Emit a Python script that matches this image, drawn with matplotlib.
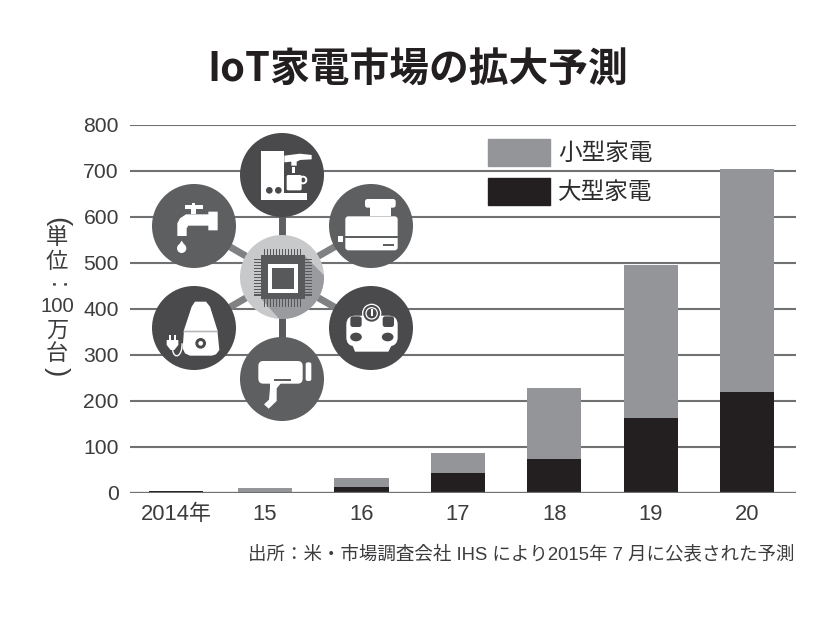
import numpy as np
import matplotlib
matplotlib.use('Agg')
import matplotlib.pyplot as plt
from matplotlib.patches import Circle, Polygon, Rectangle, FancyBboxPatch, Ellipse, PathPatch, Patch
from matplotlib.path import Path

categories = ['2014年', '15', '16', '17', '18', '19', '20']
large_appliances = [4, 2, 14, 43, 75, 162, 219]
small_appliances = [1, 8, 18, 45, 153, 333, 486]
y_ticks = [0, 100, 200, 300, 400, 500, 600, 700, 800]
series_names = ['小型家電', '大型家電']
title_text = 'IoT家電市場の拡大予測'
source_text = '出所：米・市場調査会社 IHS により2015年 7 月に公表された予測'

W, H = 833, 631
CJK = 'Noto Sans CJK JP'
SANS = ['Liberation Sans', CJK]
INK = '#3c3c3e'
GRID = '#707173'
GRAY = '#939598'
BLACK = '#231f20'

fig = plt.figure(figsize=(W / 100, H / 100), dpi=100, facecolor='white')
ax = fig.add_axes([130 / W, 1 - 493 / H, (796 - 130) / W, (493 - 125) / H])

x = np.arange(len(categories), dtype=float)
x[0] += 0.078  # first bar sits slightly right of the regular spacing
ax.bar(x, large_appliances, width=0.56, color=BLACK, zorder=3)
ax.bar(x, small_appliances, width=0.56, bottom=large_appliances, color=GRAY, zorder=3)

ax.set_xlim(-0.399, 6.503)
ax.set_ylim(0, 800)
ax.set_yticks(y_ticks)
ax.set_xticks(x)
ax.set_xticklabels(categories, family=SANS, fontsize=15.8, color=INK)
ax.tick_params(axis='both', length=0)
ax.tick_params(axis='x', pad=8)
ax.tick_params(axis='y', pad=8)
for lab in ax.get_yticklabels():
    lab.set_family(SANS)
    lab.set_fontsize(15.2)
    lab.set_color(INK)
ax.grid(axis='y', color=GRID, lw=1.5, zorder=1)
ax.set_axisbelow(True)
for s in ax.spines.values():
    s.set_visible(False)
ax.axhline(0, color=GRID, lw=1.6, zorder=4)

handles = [Patch(color=GRAY), Patch(color=BLACK)]
fig.legend(handles, series_names, loc='upper left', bbox_to_anchor=(488 / W, 1 - 139 / H),
           frameon=False, prop={'family': CJK, 'size': 17}, borderpad=0, borderaxespad=0,
           handlelength=2.63, handleheight=1.36, handletextpad=0.34, labelspacing=0.53,
           labelcolor='#2c2c2e')

fig.text(418 / W, 1 - 70 / H, title_text, ha='center', va='center', family=[CJK], fontsize=28.6,
         fontweight='bold', color='#231f20')
fig.text(795 / W, 1 - 554 / H, source_text, ha='right', va='center', family=SANS, fontsize=13.3, color=INK)

# stacked vertical unit label
unit = [('(', 222, 270, 20), ('単', 239, 0, 16), ('位', 263, 0, 16), (':', 285, 270, 18), ('100', 307, 0, 14.6),
        ('万', 331, 0, 16), ('台', 354, 0, 16), (')', 372, 270, 20)]
for t, py, rot, fs in unit:
    fig.text(57 / W, 1 - py / H, t, ha='center', va='center', family=SANS, fontsize=fs,
             rotation=rot, color=INK)

# ---- illustration overlay, drawn in pixel coordinates ----
ov = fig.add_axes([0, 0, 1, 1], zorder=5)
ov.set_xlim(0, W)
ov.set_ylim(H, 0)
ov.axis('off')
ov.patch.set_alpha(0)

DARK = '#4a4a4c'
MID = '#5e5f61'
WHITE = 'white'
ctr = (282, 277)
R = 42
spokes = [(282, 175, DARK, MID), (194, 226, MID, '#808183'), (194, 328, DARK, '#808183'),
          (282, 379, MID, '#58595b'), (371, 226, MID, '#808183'), (371, 328, DARK, '#808183')]
for cx, cy, c, sc in spokes:
    ov.plot([ctr[0], cx], [ctr[1], cy], color=sc, lw=5, zorder=1, solid_capstyle='butt')
    ov.add_patch(Circle((cx, cy), R, fc=c, ec='none', zorder=2))


def Z(zx, zy):
    return (130 + zx / 3, 125 + zy / 3)


def Y(zx, zy):
    return (240 + zx / 3, 125 + zy / 3)


def poly(pts, fc=WHITE, z=3):
    ov.add_patch(Polygon(pts, closed=True, fc=fc, ec='none', zorder=z))


def rrect(f, x0, y0, x1, y1, r, fc=WHITE, z=3):
    a, b = f(x0, y0), f(x1, y1)
    ov.add_patch(FancyBboxPatch((a[0] + r, a[1] + r), b[0] - a[0] - 2 * r, b[1] - a[1] - 2 * r,
                                boxstyle=f'round,pad={r},rounding_size={r}', fc=fc, ec='none', zorder=z))


def circ(f, zx, zy, r, fc=WHITE, z=3, ec='none', lw=0):
    ov.add_patch(Circle(f(zx, zy), r / 3, fc=fc, ec=ec, lw=lw, zorder=z))


# coffee machine
poly([Z(*p) for p in [(393, 78), (463, 78), (463, 205), (530, 205), (530, 225), (393, 225)]])
poly([Z(*p) for p in [(463, 92), (510, 86), (545, 90), (545, 103), (510, 105), (500, 110), (500, 122),
                      (484, 122), (484, 110), (463, 112)]])
ov.add_patch(Rectangle(Z(487, 126), 8 / 3, 18 / 3, fc=WHITE, ec='none', zorder=3))
rrect(Z, 470, 150, 515, 196, 1.5)
circ(Z, 519, 165, 10, fc='none', ec=WHITE, lw=1.4, z=3)
circ(Z, 418, 196, 10, fc=DARK, z=4)
circ(Z, 445, 196, 10, fc=DARK, z=4)

# tap
poly([Z(*p) for p in [(165, 241), (185, 241), (185, 233), (195, 233), (195, 241), (218, 241), (218, 251),
                      (197, 251), (197, 266), (183, 266), (183, 251), (165, 251)]])
poly([Z(*p) for p in [(142, 333), (142, 295), (150, 280), (168, 268), (235, 268), (235, 260), (263, 260),
                      (263, 316), (235, 316), (235, 302), (175, 302), (170, 310), (170, 333)]])
circ(Z, 155, 370, 14)
poly([Z(*p) for p in [(155, 347), (143, 365), (167, 365)]])

# humidifier
poly([Z(*p) for p in [(195, 530), (228, 530), (240, 545), (262, 615), (268, 675), (258, 688), (245, 692),
                      (180, 692), (165, 685), (158, 670), (162, 615), (185, 545)]])
poly([Z(*p) for p in [(161, 617), (263, 617), (264, 622), (160, 622)]], fc='#b8b9bb', z=4)
circ(Z, 212, 655, 16, fc=DARK, z=4)
circ(Z, 212, 655, 7, fc=WHITE, z=5)
poly([Z(*p) for p in [(110, 645), (145, 645), (145, 660), (133, 675), (122, 675), (110, 660)]])
poly([Z(*p) for p in [(116, 630), (122, 630), (122, 646), (116, 646)]])
poly([Z(*p) for p in [(133, 630), (139, 630), (139, 646), (133, 646)]])
cord = Path([Z(128, 675), Z(132, 705), Z(158, 695), Z(156, 655)], [Path.MOVETO, Path.CURVE4, Path.CURVE4, Path.CURVE4])
ov.add_patch(PathPatch(cord, fc='none', ec=WHITE, lw=1.0, zorder=3))

# hair dryer
rrect(Z, 385, 708, 518, 776, 5)
rrect(Z, 527, 712, 544, 768, 2)
poly([Z(*p) for p in [(420, 772), (455, 772), (440, 790), (440, 828), (416, 851), (402, 838), (417, 824), (420, 790)]])
poly([Z(*p) for p in [(433, 763), (483, 763), (483, 768), (433, 768)]], fc=MID, z=4)

# toaster
rrect(Y, 375, 222, 467, 248, 2.5)
poly([Y(*p) for p in [(390, 245), (452, 245), (452, 272), (390, 272)]])
rrect(Y, 316, 274, 473, 376, 3)
poly([Y(*p) for p in [(316, 334), (473, 334), (473, 338), (316, 338)]], fc=MID, z=4)
poly([Y(*p) for p in [(430, 358), (462, 358), (462, 364), (430, 364)]], fc=MID, z=4)
ov.add_patch(Rectangle(Y(291, 331), 22 / 3, 22 / 3, fc=MID, ec='none', zorder=4))
ov.add_patch(Rectangle(Y(294, 334), 16 / 3, 16 / 3, fc=WHITE, ec='none', zorder=5))

# body scale
rrect(Y, 319, 572, 473, 664, 9)
poly([Y(*p) for p in [(335, 655), (458, 655), (445, 680), (345, 680)]])
circ(Y, 395, 565, 29, fc=WHITE, z=4)
circ(Y, 395, 565, 25, fc=DARK, z=5)
circ(Y, 395, 565, 17, fc='none', ec=WHITE, lw=0.9, z=6)
poly([Y(*p) for p in [(393, 553), (398, 553), (398, 572), (393, 572)]], z=6)
rrect(Y, 331, 574, 365, 606, 2.5, fc=DARK, z=4)
rrect(Y, 428, 574, 462, 606, 2.5, fc=DARK, z=4)
ov.add_patch(Ellipse(Y(348, 636), 35 / 3, 26 / 3, fc=DARK, ec='none', zorder=4))
ov.add_patch(Ellipse(Y(443, 636), 35 / 3, 26 / 3, fc=DARK, ec='none', zorder=4))

# central chip
disc = Circle(ctr, R, fc='#c8c9cb', ec='none', zorder=2)
ov.add_patch(disc)
shadow = Polygon([Z(*p) for p in [(520, 388), (640, 510), (500, 640), (392, 520)]], closed=True,
                 fc='#9a9b9e', ec='none', zorder=3)
ov.add_patch(shadow)
shadow.set_clip_path(disc)
CHIP = '#58595b'
for i in np.linspace(0, 1, 13):
    zv = 404 + i * 108
    poly([Z(zv - 1.6, 372), Z(zv + 1.6, 372), Z(zv + 1.6, 545), Z(zv - 1.6, 545)], fc=CHIP, z=4)
    zh = 404 + i * 106
    poly([Z(372, zh - 1.6), Z(545, zh - 1.6), Z(545, zh + 1.6), Z(372, zh + 1.6)], fc=CHIP, z=4)
poly([Z(392, 390), Z(525, 390), Z(525, 522), Z(392, 522)], fc=CHIP, z=5)
poly([Z(415, 418), Z(503, 418), Z(503, 505), Z(415, 505)], fc=WHITE, z=6)
poly([Z(427, 428), Z(493, 428), Z(493, 493), Z(427, 493)], fc=CHIP, z=7)

fig.savefig('out.png', dpi=100, facecolor='white')
